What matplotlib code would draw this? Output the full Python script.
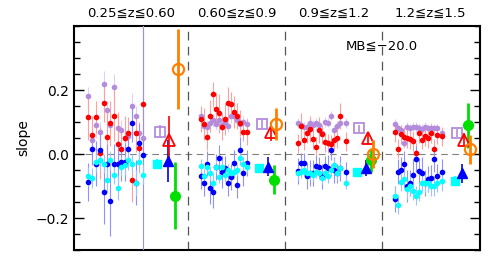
import numpy as np
import matplotlib
matplotlib.use('Agg')
import matplotlib.pyplot as plt
from matplotlib.ticker import MultipleLocator

plt.rcParams['font.family'] = ['DejaVu Sans', 'Noto Sans CJK JP']

# redshift bins shown across the top
bin_labels = ['0.25≦z≦0.60', '0.60≦z≦0.9', '0.9≦z≦1.2', '1.2≦z≦1.5']

# x positions of the individual measurements, one list per bin
x_pts = [
    [-0.031, 0.010, 0.052, 0.093, 0.134, 0.165, 0.196, 0.237, 0.278, 0.309, 0.351, 0.381, 0.423, 0.464, 0.495, 0.536],
    [1.134, 1.165, 1.196, 1.227, 1.258, 1.289, 1.320, 1.351, 1.381, 1.412, 1.443, 1.474, 1.505, 1.536, 1.567, 1.608],
    [2.134, 2.165, 2.196, 2.227, 2.258, 2.289, 2.320, 2.351, 2.381, 2.412, 2.443, 2.474, 2.505, 2.536, 2.567, 2.629],
    [3.134, 3.165, 3.196, 3.227, 3.258, 3.289, 3.320, 3.351, 3.381, 3.412, 3.443, 3.474, 3.505, 3.536, 3.567, 3.619],
]

red_y = [
    [0.115, 0.06, 0.115, 0.003, 0.16, 0.053, 0.096, 0.12, 0.03, 0.015, 0.05, 0.065, -0.08, 0.065, 0.02, 0.155],
    [0.109, 0.093, 0.053, 0.118, 0.186, 0.14, 0.127, 0.084, 0.11, 0.16, 0.155, 0.13, 0.118, 0.096, 0.07, 0.068],
    [0.034, 0.087, 0.043, 0.065, 0.078, 0.046, 0.022, 0.075, 0.062, 0.037, 0.034, 0.03, 0.045, 0.05, 0.118, 0.04],
    [0.068, 0.016, 0.062, 0.053, 0.05, 0.046, 0.04, 0.003, 0.065, 0.045, 0.055, 0.05, 0.065, 0.016, 0.06, 0.055],
]
red_err = [
    [0.07, 0.06, 0.05, 0.08, 0.06, 0.09, 0.07, 0.08, 0.1, 0.06, 0.07, 0.05, 0.07, 0.06, 0.08, 0.25],
    [0.04, 0.05, 0.04, 0.05, 0.04, 0.05, 0.06, 0.04, 0.05, 0.05, 0.04, 0.05, 0.04, 0.04, 0.03, 0.04],
    [0.03, 0.04, 0.03, 0.03, 0.04, 0.03, 0.03, 0.04, 0.03, 0.03, 0.03, 0.03, 0.03, 0.03, 0.04, 0.03],
    [0.03, 0.03, 0.03, 0.03, 0.03, 0.03, 0.03, 0.03, 0.03, 0.03, 0.03, 0.03, 0.03, 0.03, 0.03, 0.03],
]

purple_y = [
    [0.18, 0.045, 0.09, 0.07, 0.22, 0.137, 0.09, 0.21, 0.08, 0.075, 0.05, 0.055, 0.15, 0.12, 0.065, 0.05],
    [0.118, 0.087, 0.085, 0.096, 0.105, 0.095, 0.105, 0.09, 0.1, 0.088, 0.118, 0.12, 0.105, 0.095, 0.1, 0.093],
    [0.096, 0.09, 0.085, 0.084, 0.096, 0.09, 0.096, 0.09, 0.065, 0.1, 0.098, 0.12, 0.075, 0.087, 0.096, 0.096],
    [0.093, 0.08, 0.075, 0.034, 0.084, 0.08, 0.085, 0.084, 0.08, 0.078, 0.084, 0.08, 0.082, 0.08, 0.08, 0.065],
]
purple_err = [
    [0.03, 0.03, 0.04, 0.03, 0.04, 0.03, 0.03, 0.04, 0.03, 0.03, 0.03, 0.03, 0.04, 0.03, 0.03, 0.03],
    [0.02, 0.02, 0.02, 0.02, 0.02, 0.02, 0.02, 0.02, 0.02, 0.02, 0.02, 0.02, 0.02, 0.02, 0.02, 0.02],
    [0.015, 0.015, 0.015, 0.015, 0.015, 0.015, 0.015, 0.015, 0.015, 0.015, 0.015, 0.015, 0.015, 0.015, 0.015, 0.015],
    [0.015, 0.015, 0.015, 0.015, 0.015, 0.015, 0.015, 0.015, 0.015, 0.015, 0.015, 0.015, 0.015, 0.015, 0.015, 0.015],
]

blue_y = [
    [-0.088, 0.015, -0.03, 0.012, -0.12, -0.03, -0.147, -0.03, -0.03, -0.025, -0.025, 0.015, 0.097, -0.09, 0.035, -0.003],
    [-0.068, -0.09, -0.03, -0.106, -0.118, -0.04, -0.013, -0.056, -0.045, -0.09, -0.072, -0.028, -0.096, 0.013, -0.06, -0.028],
    [-0.053, -0.028, -0.028, -0.068, -0.06, -0.06, -0.037, -0.04, -0.07, -0.037, -0.043, 0.012, -0.05, -0.06, -0.045, -0.055],
    [-0.14, -0.055, -0.05, -0.03, -0.1, -0.09, -0.065, -0.016, -0.053, -0.06, -0.09, -0.078, -0.075, -0.016, -0.07, -0.055],
]
blue_err = [
    [0.06, 0.05, 0.07, 0.05, 0.1, 0.06, 0.11, 0.06, 0.07, 0.06, 0.06, 0.05, 0.06, 0.07, 0.06, 0.4],
    [0.04, 0.04, 0.04, 0.05, 0.05, 0.04, 0.04, 0.05, 0.04, 0.04, 0.04, 0.04, 0.04, 0.04, 0.04, 0.04],
    [0.04, 0.03, 0.03, 0.04, 0.04, 0.04, 0.03, 0.03, 0.04, 0.03, 0.04, 0.03, 0.04, 0.03, 0.04, 0.03],
    [0.04, 0.04, 0.04, 0.04, 0.05, 0.04, 0.05, 0.04, 0.04, 0.05, 0.04, 0.04, 0.04, 0.04, 0.04, 0.04],
]

cyan_y = [
    [-0.07, -0.075, -0.025, -0.02, -0.03, -0.08, -0.02, -0.065, -0.105, -0.04, -0.035, -0.02, -0.03, -0.09, -0.025, -0.065],
    [-0.037, -0.068, -0.04, -0.06, -0.09, -0.04, -0.072, -0.04, -0.065, -0.05, -0.06, -0.055, -0.05, -0.013, -0.03, -0.04],
    [-0.06, -0.055, -0.05, -0.06, -0.06, -0.065, -0.055, -0.058, -0.075, -0.06, -0.07, -0.05, -0.034, -0.06, -0.045, -0.09],
    [-0.13, -0.158, -0.087, -0.078, -0.11, -0.1, -0.115, -0.13, -0.118, -0.09, -0.09, -0.09, -0.1, -0.1, -0.09, -0.085],
]
cyan_err = [
    [0.03, 0.03, 0.03, 0.03, 0.03, 0.04, 0.03, 0.03, 0.04, 0.03, 0.03, 0.03, 0.03, 0.04, 0.03, 0.03],
    [0.02, 0.02, 0.02, 0.02, 0.03, 0.02, 0.02, 0.02, 0.02, 0.02, 0.02, 0.02, 0.02, 0.02, 0.02, 0.02],
    [0.02, 0.02, 0.02, 0.02, 0.02, 0.02, 0.02, 0.02, 0.02, 0.02, 0.02, 0.02, 0.02, 0.02, 0.02, 0.02],
    [0.03, 0.03, 0.03, 0.03, 0.03, 0.03, 0.03, 0.03, 0.03, 0.03, 0.03, 0.03, 0.03, 0.03, 0.03, 0.03],
]

# summary values per bin
sum_cyan_x = [0.68, 1.73, 2.74, 3.75]
sum_cyan_y = [-0.03, -0.045, -0.055, -0.085]
sum_cyan_e = [0.015, 0.01, 0.01, 0.015]

sum_purple_x = [0.71, 1.76, 2.76, 3.77]
sum_purple_y = [0.07, 0.095, 0.08, 0.065]
sum_purple_e = [0.02, 0.015, 0.01, 0.012]

sum_red_x = [0.80, 1.85, 2.85, 3.85]
sum_red_y = [0.045, 0.07, 0.05, 0.045]
sum_red_e = [0.075, 0.03, 0.02, 0.02]

sum_blue_x = [0.79, 1.82, 2.83, 3.82]
sum_blue_y = [-0.022, -0.04, -0.045, -0.06]
sum_blue_e = [0.065, 0.03, 0.025, 0.03]

sum_green_x = [0.86, 1.88, 2.88, 3.89]
sum_green_y = [-0.13, -0.08, -0.02, 0.09]
sum_green_e = [0.105, 0.045, 0.035, 0.07]

sum_orange_x = [0.89, 1.90, 2.91, 3.91]
sum_orange_y = [0.265, 0.095, 0.0, 0.015]
sum_orange_e = [0.125, 0.05, 0.045, 0.045]

fig = plt.figure(figsize=(4.91, 2.64), dpi=100)
ax = fig.add_axes([0.1507, 0.053, 0.8269, 0.8485])

ax.axhline(0, color='gray', lw=0.8, ls=(0, (6, 4)), zorder=1)
for xd in [1, 2, 3]:
    ax.axvline(xd, color='#555555', lw=0.9, ls=(0, (7, 5)), zorder=1)

series = [
    (purple_y, purple_err, '#b48cdc', '#e0d0f4'),
    (red_y, red_err, '#ff0000', '#ffa0a0'),
    (blue_y, blue_err, '#0000ff', '#9090ff'),
    (cyan_y, cyan_err, '#00ffff', '#99c4ff'),
]
for ys, es, c, ec in series:
    for k in range(4):
        ax.errorbar(x_pts[k], ys[k], yerr=es[k], fmt='o', ms=3.0, color=c,
                    mec=c, ecolor=ec, elinewidth=0.8, capsize=0, zorder=3)

ax.errorbar(sum_cyan_x, sum_cyan_y, yerr=sum_cyan_e, fmt='s', ms=6,
            color='#00ffff', ecolor='#00ffff', elinewidth=1.2, zorder=4)
ax.errorbar(sum_purple_x, sum_purple_y, yerr=sum_purple_e, fmt='s', ms=7,
            mfc='none', mec='#b48cdc', mew=1.3, ecolor='#b48cdc', elinewidth=1.2, zorder=4)
ax.errorbar(sum_blue_x, sum_blue_y, yerr=sum_blue_e, fmt='^', ms=7,
            color='#0000ff', ecolor='#0000ff', elinewidth=1.2, zorder=4)
ax.errorbar(sum_red_x, sum_red_y, yerr=sum_red_e, fmt='^', ms=8,
            mfc='none', mec='#ff0000', mew=1.3, ecolor='#ff0000', elinewidth=1.2, zorder=4)
ax.errorbar(sum_green_x, sum_green_y, yerr=sum_green_e, fmt='o', ms=7,
            color='#00e000', ecolor='#00e000', elinewidth=2, zorder=4)
ax.errorbar(sum_orange_x, sum_orange_y, yerr=sum_orange_e, fmt='o', ms=8,
            mfc='none', mec='#ff8000', mew=1.6, ecolor='#ff8000', elinewidth=2, zorder=5)

ax.set_xlim(-0.18, 4.01)
ax.set_ylim(-0.3, 0.4)
ax.set_xticks([])
ax.yaxis.set_major_locator(MultipleLocator(0.2))
ax.yaxis.set_minor_locator(MultipleLocator(0.05))
ax.set_yticks([-0.2, 0.0, 0.2])
ax.set_yticklabels(['\u22120.2', '0.0', '0.2'])
ax.tick_params(axis='y', which='major', direction='in', length=7, width=1,
               right=True, labelsize=10)
ax.tick_params(axis='y', which='minor', direction='in', length=4, width=1, right=True)
for s in ax.spines.values():
    s.set_linewidth(1.5)

ax.set_ylabel('slope', fontsize=10, labelpad=4)

mids = [0.41, 1.5, 2.5, 3.5]
for xm, lab in zip(mids, bin_labels):
    ax.text(xm, 1.055, lab, transform=ax.get_xaxis_transform(),
            ha='center', va='center', fontsize=9.5)

ax.text(2.62, 0.335, 'MB≦\u221220.0', ha='left', va='center', fontsize=9.5)

fig.savefig('out.png', dpi=100)
